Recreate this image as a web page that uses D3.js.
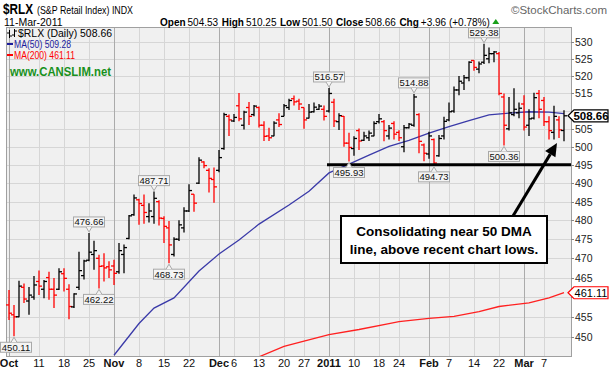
<!DOCTYPE html>
<meta charset="utf-8">
<style>
    html, body { margin:0; padding:0; overflow:hidden; background:#fff }
    text { font-family: "Liberation Sans", Arial, sans-serif; }
</style>
<svg id="mainsvg" width="613" height="372"></svg>
<script src="https://cdn.jsdelivr.net/npm/d3@7/dist/d3.min.js"></script>
<script>

// daily OHLC, 1-Oct-2010 .. 11-Mar-2011
var opens  = [458.0,455.5,455.0,462.5,459.0,460.0,464.0,462.0,465.0,462.0,
              462.0,466.0,462.0,457.5,462.5,465.5,469.5,471.0,470.0,468.0,
              467.8,468.0,466.5,471.0,475.2,481.5,485.5,484.0,481.0,481.0,
              485.0,480.5,478.0,471.0,475.0,478.0,482.5,487.0,490.0,495.8,
              493.5,491.0,493.5,499.5,508.5,507.2,511.5,506.0,511.0,509.0,
              511.0,506.0,503.0,503.0,507.5,508.5,511.0,513.5,512.8,511.0,
              508.0,509.8,510.5,510.5,510.0,512.5,507.0,508.5,501.0,499.5,
              504.5,501.8,502.5,503.0,507.0,507.0,503.0,506.5,504.0,500.0,
              505.3,506.0,509.0,500.5,498.0,502.0,497.5,503.0,507.5,510.0,
              516.0,518.0,519.5,524.5,522.0,524.0,525.0,526.5,526.5,514.0,
              505.0,509.0,509.5,512.0,506.0,508.0,515.0,513.0,507.0,504.0,
              507.5,504.53];
var highs  = [461.8,458.0,464.2,463.5,462.6,465.4,466.8,464.4,466.5,464.9,
              467.4,467.4,463.3,461.0,471.7,469.6,476.66,474.6,470.9,471.3,
              469.2,469.6,474.0,473.6,481.4,486.9,485.8,486.9,484.6,487.71,
              485.4,481.1,479.8,475.5,480.0,483.5,489.7,487.0,497.1,496.0,
              494.1,494.3,499.1,509.5,509.0,509.2,515.1,510.1,512.6,511.7,
              511.3,507.1,505.3,507.1,509.4,512.0,513.5,514.4,513.5,511.0,
              512.0,512.4,512.0,511.6,516.57,513.5,509.4,508.6,503.9,502.9,
              505.1,504.2,504.5,507.1,509.2,507.5,506.1,507.1,504.6,506.1,
              506.6,514.88,509.4,500.9,504.2,502.3,503.3,508.4,512.4,517.0,
              520.0,520.3,524.3,524.6,524.2,529.38,528.3,527.3,527.0,515.0,
              514.0,516.5,512.4,514.5,510.5,515.2,516.0,514.0,508.5,511.5,
              508.5,510.25];
var lows   = [454.2,450.11,454.9,458.5,455.5,459.3,460.5,459.7,459.3,457.2,
              461.8,461.4,454.4,457.2,461.8,464.5,469.2,467.0,462.22,464.0,
              464.9,463.1,466.0,466.1,475.0,481.2,478.8,479.1,479.4,479.1,
              478.6,474.0,468.73,470.5,474.5,476.8,482.2,482.3,489.8,494.1,
              487.5,484.7,493.0,499.2,503.0,506.9,507.1,504.8,506.1,508.5,
              505.4,501.6,501.6,502.9,505.5,508.5,510.3,511.6,510.3,505.0,
              507.9,509.6,510.3,507.3,509.6,505.5,504.7,500.0,495.93,497.5,
              499.1,501.6,501.6,502.9,506.5,501.5,502.0,502.0,501.6,498.5,
              505.1,505.6,498.2,496.0,496.7,494.73,497.2,502.0,507.1,509.5,
              514.5,516.0,518.5,521.5,520.8,523.5,523.7,524.0,514.5,500.36,
              504.5,508.5,508.0,504.5,503.0,507.6,508.0,505.8,502.0,502.0,
              502.4,501.50];
var closes = [455.9,455.0,462.8,459.5,460.5,463.1,462.8,464.0,462.0,460.5,
              466.5,464.8,457.6,460.8,466.8,469.3,471.6,472.0,467.9,467.5,
              467.0,466.1,472.0,472.8,481.2,486.0,484.5,482.1,482.5,485.9,
              480.6,478.4,473.5,475.0,478.8,482.5,488.0,484.6,496.3,494.8,
              491.3,489.0,497.0,509.0,507.5,508.2,507.8,509.7,508.5,511.4,
              506.0,502.9,502.5,506.6,506.2,511.5,513.0,512.6,512.0,507.5,
              509.7,511.1,511.4,508.5,515.0,507.2,508.7,501.0,499.8,502.3,
              501.6,503.0,503.8,506.5,507.8,504.5,505.2,503.5,502.5,505.3,
              506.3,514.0,501.5,498.2,503.0,495.5,502.3,507.1,509.8,516.0,
              518.5,519.5,524.0,522.5,523.5,526.0,526.5,527.0,515.0,506.0,
              509.5,510.5,510.8,505.5,507.8,513.8,510.5,507.0,504.5,508.5,
              504.70,508.66];
var prevClose = 457.2;

var ma50Idx = [21,26,29,33,38,42,46,50,56,60,64,68,72,76,80,84,88,92,96,100,104,108,111];
var ma50Val = [445.4,453.3,457.2,459.8,466.7,471.1,474.8,479.0,484.1,487.8,492.8,495.2,
               497.7,500.1,501.8,503.8,505.6,507.3,508.9,509.4,509.8,509.7,509.28];
var ma200Idx = [50,55,59,64,70,76,78,84,89,94,98,104,108,111];
var ma200Val = [445.0,447.6,448.9,450.5,451.8,453.3,453.8,454.6,455.1,456.3,457.6,458.5,459.8,461.11];

var tickIdx    = [0,6,11,16,21,26,31,36,42,45,50,55,59,64,69,74,78,84,88,93,98,103,107];
var tickLabels = ["Oct","11","18","25","Nov","8","15","22","Dec","6","13","20","27",
                  "2011","10","18","24","Feb","7","14","22","Mar","7"];
var tickMonth  = [1,0,0,0,1,0,0,0,1,0,0,0,0,1,0,0,0,1,0,0,0,1,0];
var yTicks = [450,455,460,465,470,475,480,485,490,495,500,505,510,515,520,525,530];

var noteIdx = [1,16,18,29,32,64,68,81,85,95,99];
var noteVal = [450.11,476.66,462.22,487.71,468.73,516.57,495.93,514.88,494.73,529.38,500.36];
var noteLow = [1,0,1,0,1,0,1,0,1,0,1];

var quoteNames  = ["Open", "High", "Low", "Close", "Chg"];
var quoteValues = ["504.53", "510.25", "501.50", "508.66", "+3.96 (+0.78%)"];

var lastTags = [508.66, 461.11];
var supportLevel = 495;

/* -- */

var svg = d3.select("#mainsvg");
var pl = 6, pr = 571, pt = 27, pb = 356;

var x = d3.scaleLinear().domain([0, 111]).range([9, 564]);
var y = d3.scaleLog().domain([450, 530]).range([336.7, 41.7]);

svg.append("defs").append("clipPath").attr("id", "clip")
    .append("rect").attr("x", pl).attr("y", pt).attr("width", pr - pl).attr("height", pb - pt);

svg.append("rect").attr("x", pl).attr("y", pt).attr("width", pr - pl).attr("height", pb - pt)
    .attr("fill", "#f0f0f0");

// grid
svg.append("g").selectAll("line").data(yTicks).enter().append("line")
    .attr("x1", pl).attr("x2", pr)
    .attr("y1", function(d) { return Math.round(y(d)) + 0.5; })
    .attr("y2", function(d) { return Math.round(y(d)) + 0.5; })
    .attr("stroke", "#d6d6d6");

svg.append("g").selectAll("line").data(tickIdx).enter().append("line")
    .attr("x1", function(d) { return Math.round(x(d)) + 0.5; })
    .attr("x2", function(d) { return Math.round(x(d)) + 0.5; })
    .attr("y1", pt).attr("y2", pb)
    .attr("stroke", function(d, i) { return tickMonth[i] ? "#ababab" : "#d6d6d6"; });

svg.append("rect").attr("x", pl + 0.5).attr("y", pt + 0.5).attr("width", pr - pl).attr("height", pb - pt)
    .attr("fill", "none").attr("stroke", "#a0a0a0");

// y axis (labels hidden behind the last-value tags are left out)
var yAx = svg.append("g");
yAx.selectAll("line").data(yTicks).enter().append("line")
    .attr("x1", pr).attr("x2", pr + 3)
    .attr("y1", function(d) { return Math.round(y(d)) + 0.5; })
    .attr("y2", function(d) { return Math.round(y(d)) + 0.5; })
    .attr("stroke", "#888");
var shownTicks = yTicks.filter(function(d) {
    return lastTags.every(function(t) { return Math.abs(y(d) - y(t)) > 9; });
});
yAx.selectAll("text").data(shownTicks).enter().append("text")
    .attr("x", pr + 4).attr("y", function(d) { return y(d) + 4; })
    .attr("font-size", "10.5px").attr("fill", "#222")
    .text(function(d) { return d; });

// x axis
svg.append("g").selectAll("text").data(tickIdx).enter().append("text")
    .attr("x", function(d) { return x(d); }).attr("y", 367)
    .attr("text-anchor", "middle")
    .attr("font-size", "11px")
    .attr("font-weight", function(d, i) { return tickMonth[i] ? "bold" : "normal"; })
    .attr("fill", "#111")
    .text(function(d, i) { return tickLabels[i]; });

// moving averages
var plotG = svg.append("g").attr("clip-path", "url(#clip)");
var line = d3.line().x(function(d) { return x(d[0]); }).y(function(d) { return y(d[1]); });

plotG.append("path").datum(ma200Idx.map(function(d, i) { return [d, ma200Val[i]]; }))
    .attr("d", line).attr("fill", "none").attr("stroke", "#ff2020").attr("stroke-width", 1.3);
plotG.append("path").datum(ma50Idx.map(function(d, i) { return [d, ma50Val[i]]; }))
    .attr("d", line).attr("fill", "none").attr("stroke", "#3a3aa8").attr("stroke-width", 1.3);

// support line
svg.append("line").attr("x1", 327).attr("x2", pr)
    .attr("y1", y(supportLevel)).attr("y2", y(supportLevel))
    .attr("stroke", "#000").attr("stroke-width", 3);

// OHLC bars
var bars = plotG.append("g").selectAll("g").data(closes).enter().append("g")
    .attr("stroke", function(d, i) {
        var pc = i == 0 ? prevClose : closes[i - 1];
        return d < pc ? "#ff0000" : "#000";
    })
    .attr("stroke-width", 1.3);
bars.append("line")
    .attr("x1", function(d, i) { return x(i); }).attr("x2", function(d, i) { return x(i); })
    .attr("y1", function(d, i) { return y(highs[i]); })
    .attr("y2", function(d, i) { return y(lows[i]); });
bars.append("line")
    .attr("x1", function(d, i) { return x(i) - 3; }).attr("x2", function(d, i) { return x(i); })
    .attr("y1", function(d, i) { return y(opens[i]); })
    .attr("y2", function(d, i) { return y(opens[i]); });
bars.append("line")
    .attr("x1", function(d, i) { return x(i); }).attr("x2", function(d, i) { return x(i) + 3; })
    .attr("y1", function(d) { return y(d); })
    .attr("y2", function(d) { return y(d); });

// value call-outs
var notes = svg.append("g").selectAll("g").data(noteIdx).enter().append("g");
notes.each(function(d, i) {
    var g = d3.select(this);
    var cx = x(d), py = y(noteVal[i]);
    var bw = 31, bh = 10;
    var by = noteLow[i] ? py + 6 : py - 6 - bh;
    var bx = Math.max(cx - bw / 2, 0.5);
    g.append("rect").attr("x", bx).attr("y", by).attr("width", bw).attr("height", bh)
        .attr("fill", "#f4f4f4").attr("stroke", "#a8a8a8");
    var ty = noteLow[i] ? by : by + bh;
    var tip = noteLow[i] ? py + 1 : py - 1;
    g.append("path")
        .attr("d", "M" + (cx - 3) + "," + ty + "L" + cx + "," + tip + "L" + (cx + 3) + "," + ty)
        .attr("fill", "#f4f4f4").attr("stroke", "#a8a8a8");
    g.append("text").attr("x", bx + bw / 2).attr("y", by + bh - 1.5)
        .attr("text-anchor", "middle").attr("font-size", "9.5px").attr("fill", "#111")
        .text(noteVal[i].toFixed(2));
});

// last value tags
function tag(val, col, bold) {
    var ty = y(val);
    svg.append("path")
        .attr("d", "M568," + ty + "L574," + (ty - 6) + "L608," + (ty - 6) + "L608," + (ty + 6) +
                   "L574," + (ty + 6) + "Z")
        .attr("fill", "#fff").attr("stroke", col).attr("stroke-width", 1.2);
    svg.append("text").attr("x", 591).attr("y", ty + 4).attr("text-anchor", "middle")
        .attr("font-size", bold ? "11.5px" : "11px").attr("font-weight", bold ? "bold" : "normal")
        .attr("fill", "#000").text(val.toFixed(2));
}
tag(lastTags[0], "#000", true);
tag(lastTags[1], "#ff0000", false);

// comment box + arrow
svg.append("rect").attr("x", 341).attr("y", 216).attr("width", 206).attr("height", 47)
    .attr("fill", "#fff").attr("stroke", "#000").attr("stroke-width", 2);
svg.append("text").attr("x", 444).attr("y", 236).attr("text-anchor", "middle")
    .attr("font-size", "13.5px").attr("font-weight", "bold").text("Consolidating near 50 DMA");
svg.append("text").attr("x", 444).attr("y", 254).attr("text-anchor", "middle")
    .attr("font-size", "13.5px").attr("font-weight", "bold").text("line, above recent chart lows.");

var a0 = [513, 216], a1 = [557, 143];
var dx = a1[0] - a0[0], dy = a1[1] - a0[1], len = Math.sqrt(dx * dx + dy * dy);
var ux = dx / len, uy = dy / len;
var bxh = a1[0] - 13 * ux, byh = a1[1] - 13 * uy;
svg.append("line").attr("x1", a0[0]).attr("y1", a0[1]).attr("x2", bxh).attr("y2", byh)
    .attr("stroke", "#000").attr("stroke-width", 3);
svg.append("path")
    .attr("d", "M" + a1[0] + "," + a1[1] + "L" + (bxh - 6 * uy) + "," + (byh + 6 * ux) +
               "L" + (bxh + 6 * uy) + "," + (byh - 6 * ux) + "Z")
    .attr("fill", "#000");

// legend inside plot
var ic = svg.append("g").attr("stroke", "#000").attr("stroke-width", 1);
ic.append("path").attr("d", "M9.5,30V38M7,33H9.5M9.5,36H12M14.5,29V37M12,35H14.5M14.5,31H17");
svg.append("text").attr("x", 18).attr("y", 37).attr("font-size", "11px")
    .attr("textLength", 94).attr("lengthAdjust", "spacingAndGlyphs").text("$RLX (Daily) 508.66");
svg.append("line").attr("x1", 7).attr("x2", 13).attr("y1", 44).attr("y2", 44)
    .attr("stroke", "#1c1c9c").attr("stroke-width", 2);
svg.append("text").attr("x", 14).attr("y", 48).attr("font-size", "10px").attr("fill", "#1c1c9c")
    .attr("textLength", 57).attr("lengthAdjust", "spacingAndGlyphs").text("MA(50) 509.28");
svg.append("line").attr("x1", 7).attr("x2", 13).attr("y1", 55).attr("y2", 55)
    .attr("stroke", "#ff0000").attr("stroke-width", 2);
svg.append("text").attr("x", 14).attr("y", 59).attr("font-size", "10px").attr("fill", "#ff0000")
    .attr("textLength", 61).attr("lengthAdjust", "spacingAndGlyphs").text("MA(200) 461.11");
svg.append("text").attr("x", 10).attr("y", 76).attr("font-size", "13px").attr("font-weight", "bold")
    .attr("fill", "#18901c").attr("textLength", 101).attr("lengthAdjust", "spacingAndGlyphs")
    .text("www.CANSLIM.net");

// header
svg.append("text").attr("x", 3).attr("y", 14).attr("font-size", "15px").attr("font-weight", "bold")
    .attr("textLength", 30).attr("lengthAdjust", "spacingAndGlyphs").text("$RLX");
svg.append("text").attr("x", 37).attr("y", 14).attr("font-size", "11px")
    .attr("textLength", 96).attr("lengthAdjust", "spacingAndGlyphs").text("(S&P Retail Index) INDX");
svg.append("text").attr("x", 607).attr("y", 14).attr("font-size", "11.5px").attr("fill", "#666")
    .attr("text-anchor", "end").text("\u00a9StockCharts.com");
svg.append("text").attr("x", 4).attr("y", 25.5).attr("font-size", "10.5px").text("11-Mar-2011");

// quote row, each word its own text, laid out left to right
var qx = 160;
quoteNames.forEach(function(n, i) {
    var t1 = svg.append("text").attr("x", qx).attr("y", 25.5).attr("font-size", "10px")
        .attr("font-weight", "bold").text(n);
    qx += t1.node().getComputedTextLength() + 2;
    var t2 = svg.append("text").attr("x", qx).attr("y", 25.5).attr("font-size", "10px").text(quoteValues[i]);
    qx += t2.node().getComputedTextLength() + 3.5;
});
svg.append("path").attr("d", "M" + (qx - 1) + ",24L" + (qx + 2.5) + ",19L" + (qx + 6) + ",24Z")
    .attr("fill", "#1aa01a");

</script>
